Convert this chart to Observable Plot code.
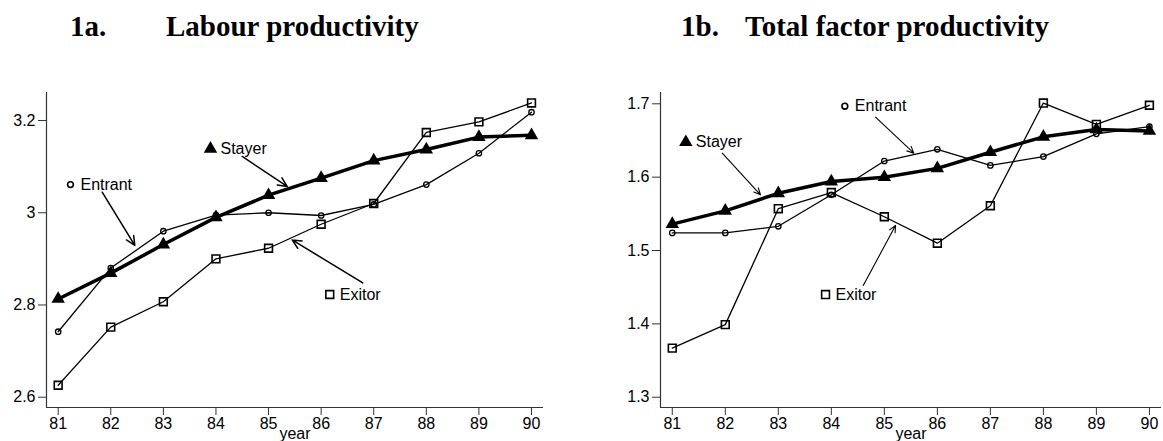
<!DOCTYPE html>
<html>
<head>
<meta charset="utf-8">
<script src="https://cdn.jsdelivr.net/npm/d3@7"></script>
<script src="https://cdn.jsdelivr.net/npm/@observablehq/plot@0.6"></script>
<style>
  html, body { margin: 0; padding: 0; background: #fff; }
  #wrap { position: relative; width: 1163px; height: 441px; overflow: hidden; background: #fff; }
  .title { position: absolute; top: 12px; font-family: "Liberation Serif", "Times New Roman", serif; font-weight: bold; font-size: 29px; line-height: 29px; color: #000; white-space: nowrap; }
  .panel { position: absolute; top: 60px; }
</style>
</head>
<body>
<div id="wrap">
  <div class="title" style="left:70px">1a.</div>
  <div class="title" style="left:166px">Labour productivity</div>
  <div class="title" style="left:681px">1b.</div>
  <div class="title" style="left:745px">Total factor productivity</div>
  <div class="panel" id="left" style="left:0px"></div>
  <div class="panel" id="right" style="left:580px"></div>
</div>
<script>
// ---- data ----
const years = [81, 82, 83, 84, 85, 86, 87, 88, 89, 90];

const lpStayer  = [2.813, 2.869, 2.931, 2.990, 3.038, 3.075, 3.113, 3.137, 3.164, 3.168];
const lpEntrant = [2.742, 2.880, 2.960, 2.995, 3.000, 2.994, 3.018, 3.061, 3.129, 3.218];
const lpExitor  = [2.626, 2.752, 2.807, 2.900, 2.923, 2.975, 3.020, 3.174, 3.197, 3.238];

const tfpStayer  = [1.536, 1.554, 1.578, 1.594, 1.600, 1.612, 1.634, 1.655, 1.665, 1.663];
const tfpEntrant = [1.524, 1.524, 1.533, 1.576, 1.622, 1.638, 1.616, 1.628, 1.659, 1.669];
const tfpExitor  = [1.367, 1.399, 1.557, 1.579, 1.546, 1.510, 1.561, 1.701, 1.672, 1.698];

const seriesNames = ["Stayer", "Entrant", "Exitor"];
const seriesSymbols = ["triangle", "circle", "square"];

const lpYTicks = [2.6, 2.8, 3, 3.2];
const tfpYTicks = [1.3, 1.4, 1.5, 1.6, 1.7];
const xLabel = "year";

// annotation anchors (data units)
const lpLabelX = [83.896, 81.234, 86.164];
const lpLabelY = [3.1387, 3.061, 2.8227];
const lpArrowX1 = [84.499, 81.837, 86.792];
const lpArrowY1 = [3.122, 3.0446, 2.848];
const lpArrowX2 = [85.354, 82.457, 85.449];
const lpArrowY2 = [3.057, 2.929, 2.941];

const tfpLabelX = [81.256, 84.255, 83.891];
const tfpLabelY = [1.6476, 1.6967, 1.44];
const tfpArrowX1 = [81.943, 84.834, 84.602];
const tfpArrowY1 = [1.6327, 1.6817, 1.4523];
const tfpArrowX2 = [82.665, 85.556, 85.211];
const tfpArrowY2 = [1.5759, 1.6327, 1.5341];

// ---- build ----
function makePanel(cfg) {
  const series = [cfg.stayer, cfg.entrant, cfg.exitor];
  const rows = [];
  series.forEach((vals, si) => vals.forEach((v, i) => rows.push({name: seriesNames[si], sym: seriesSymbols[si], year: years[i], value: v})));
  const ann = seriesNames.map((n, i) => ({
    name: n, sym: seriesSymbols[i],
    x: cfg.labelX[i], y: cfg.labelY[i],
    x1: cfg.ax1[i], y1: cfg.ay1[i], x2: cfg.ax2[i], y2: cfg.ay2[i]
  }));
  const xd = cfg.xDomain, yd = cfg.yDomain;
  const rWidth = {Stayer: 3.5, Entrant: 1.3, Exitor: 1.3};
  const rSize = {triangle: 5, circle: 2.7, square: 4.4};
  return Plot.plot({
    width: cfg.width,
    height: 381,
    marginLeft: cfg.marginLeft,
    marginRight: cfg.marginRight,
    marginTop: 32,
    marginBottom: 34,
    style: {fontFamily: "'Liberation Sans', Arial, sans-serif", fontSize: "16px", color: "#000", background: "#fff"},
    x: {domain: xd},
    y: {domain: yd},
    marks: [
      Plot.ruleX([xd[0]], {stroke: "#333", strokeWidth: 1.2}),
      Plot.ruleY([yd[0]], {stroke: "#333", strokeWidth: 1.2}),
      Plot.axisY({ticks: cfg.yTicks, tickSize: 8, tickPadding: 3, label: null, stroke: "#333", fontSize: 16, tickFormat: d => String(d)}),
      Plot.axisX({ticks: years, tickSize: 8, tickPadding: 2, label: null, stroke: "#333", fontSize: 16, tickFormat: d => String(d)}),
      Plot.text([xLabel], {frameAnchor: "bottom", dy: 31, fill: "#000", fontSize: 16}),
      ...seriesNames.map(n => Plot.line(rows.filter(d => d.name === n), {x: "year", y: "value", stroke: "#000", strokeWidth: rWidth[n]})),
      Plot.dot(rows.filter(d => d.sym === "triangle"), {x: "year", y: "value", symbol: "triangle", r: rSize.triangle, fill: "#000", stroke: "none"}),
      Plot.dot(rows.filter(d => d.sym === "circle"), {x: "year", y: "value", symbol: "circle", r: rSize.circle, fill: "none", stroke: "#000", strokeWidth: 1.3}),
      Plot.dot(rows.filter(d => d.sym === "square"), {x: "year", y: "value", symbol: "square", r: rSize.square, fill: "none", stroke: "#000", strokeWidth: 1.6}),
      // annotations
      Plot.dot(ann.filter(d => d.sym === "triangle"), {x: "x", y: "y", symbol: "triangle", r: rSize.triangle, fill: "#000", stroke: "none"}),
      Plot.dot(ann.filter(d => d.sym === "circle"), {x: "x", y: "y", symbol: "circle", r: 2.9, fill: "none", stroke: "#000", strokeWidth: 1.6}),
      Plot.dot(ann.filter(d => d.sym === "square"), {x: "x", y: "y", symbol: "square", r: rSize.square, fill: "none", stroke: "#000", strokeWidth: 1.6}),
      Plot.text(ann, {x: "x", y: "y", text: "name", textAnchor: "start", dx: 10, fill: "#000", fontSize: 16}),
      Plot.arrow(ann, {x1: "x1", y1: "y1", x2: "x2", y2: "y2", stroke: "#000", strokeWidth: cfg.arrowWidth, headLength: 10, headAngle: 50})
    ]
  });
}

const xDomain = [80.778, 90.228];

document.getElementById("left").appendChild(makePanel({
  width: 580, marginLeft: 46, marginRight: 37,
  xDomain, yDomain: [2.5777, 3.2607], yTicks: lpYTicks,
  stayer: lpStayer, entrant: lpEntrant, exitor: lpExitor,
  labelX: lpLabelX, labelY: lpLabelY, ax1: lpArrowX1, ay1: lpArrowY1, ax2: lpArrowX2, ay2: lpArrowY2,
  arrowWidth: 1.5
}));

document.getElementById("right").appendChild(makePanel({
  width: 583, marginLeft: 80, marginRight: 2,
  xDomain, yDomain: [1.286, 1.7154], yTicks: tfpYTicks,
  stayer: tfpStayer, entrant: tfpEntrant, exitor: tfpExitor,
  labelX: tfpLabelX, labelY: tfpLabelY, ax1: tfpArrowX1, ay1: tfpArrowY1, ax2: tfpArrowX2, ay2: tfpArrowY2,
  arrowWidth: 1.1
}));
</script>
</body>
</html>
